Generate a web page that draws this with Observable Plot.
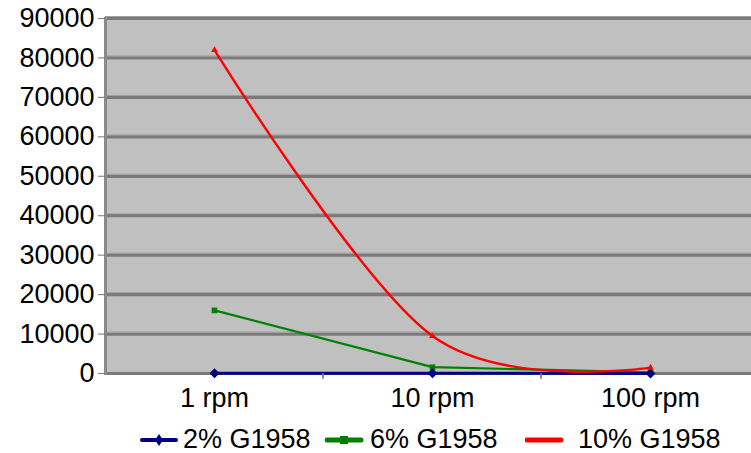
<!DOCTYPE html>
<html>
<head>
<meta charset="utf-8">
<script src="https://cdn.jsdelivr.net/npm/d3@7"></script>
<script src="https://cdn.jsdelivr.net/npm/@observablehq/plot@0.6"></script>
<style>
  html, body { margin: 0; padding: 0; background: #fff; overflow: hidden; }
  body { width: 751px; height: 453px; font-family: "Liberation Sans", Arial, sans-serif; }
  #legend { position: relative; height: 38px; font-size: 27px; color: #000; }
  .item { position: absolute; }
</style>
</head>
<body>
<div id="chart"></div>
<div id="legend"></div>
<script>
const categories = ["1 rpm", "10 rpm", "100 rpm"];
const seriesNames = ["2% G1958", "6% G1958", "10% G1958"];
const values2 = [50, 40, 30];
const values6 = [16000, 1600, 300];
const values10 = [82000, 9500, 1500];
const yTicks = [0, 10000, 20000, 30000, 40000, 50000, 60000, 70000, 80000, 90000];
const colors = ["#000080", "#008000", "#ff0000"];

const rows = [];
[values2, values6, values10].forEach((vals, s) => {
  vals.forEach((v, i) => rows.push({series: seriesNames[s], cat: categories[i], value: v}));
});
const bySeries = name => rows.filter(d => d.series === name);

const W = 751, H = 415;
const left = 105, bandW = 218;

const chart = Plot.plot({
  width: W,
  height: H,
  marginLeft: left,
  marginRight: 0,
  marginTop: 18,
  marginBottom: 42,
  style: {fontFamily: "Liberation Sans, Arial, sans-serif", fontSize: "27px", color: "#000"},
  x: {type: "point", domain: categories, padding: 0, range: [left + bandW / 2, left + bandW * 2.5]},
  y: {domain: [0, 90000], range: [373, 18]},
  marks: [
    Plot.frame({fill: "#c0c0c0", stroke: null}),
    Plot.ruleY(yTicks, {stroke: "#7a7a7a", strokeWidth: 3.2}),
    Plot.ruleY(yTicks.slice(1), {stroke: "#a0a0a0", strokeWidth: 1, dy: -2}),
    Plot.frame({anchor: "left", stroke: "#8a8a8a", strokeWidth: 3}),
    Plot.axisY({ticks: yTicks, tickSize: 7, tickPadding: 4, tickFormat: d => String(d), label: null, stroke: "#777", fontSize: 27}),
    Plot.axisX({tickSize: 0, tickPadding: 14, label: null, fontSize: 27}),
    Plot.line(bySeries(seriesNames[1]), {x: "cat", y: "value", stroke: colors[1], strokeWidth: 2.2}),
    Plot.dot(bySeries(seriesNames[1]), {x: "cat", y: "value", fill: colors[1], symbol: "square", r: 3.2}),
    Plot.line(bySeries(seriesNames[0]), {x: "cat", y: "value", stroke: colors[0], strokeWidth: 3}),
    Plot.dot(bySeries(seriesNames[0]), {x: "cat", y: "value", fill: colors[0], symbol: "diamond2", r: 4.5}),
    Plot.line(bySeries(seriesNames[2]), {x: "cat", y: "value", stroke: colors[2], strokeWidth: 2.4, curve: "cardinal", tension: 0}),
    Plot.dot(bySeries(seriesNames[2]), {x: "cat", y: "value", fill: colors[2], symbol: "triangle", r: 2.5})
  ]
});
document.getElementById("chart").appendChild(chart);

// category separator ticks on bottom axis
const svg = d3.select(chart);
[1, 2].forEach(k => {
  svg.append("line").attr("x1", left + bandW * k).attr("x2", left + bandW * k)
    .attr("y1", 373).attr("y2", 379).attr("stroke", "#777").attr("stroke-width", 1.5);
});

// legend
const legend = document.getElementById("legend");
const pos = [[140, 183], [325, 370], [525, 578]];
seriesNames.forEach((name, i) => {
  const item = document.createElement("div");
  item.className = "item";
  item.style.left = pos[i][0] + "px";
  item.style.top = "9px";
  const sw = d3.create("svg").attr("width", 40).attr("height", 30);
  sw.append("line").attr("x1", 2).attr("x2", 36).attr("y1", 16).attr("y2", 16)
    .attr("stroke", colors[i]).attr("stroke-width", i === 0 ? 4 : 5).attr("stroke-linecap", "round");
  if (i === 0) sw.append("path").attr("d", "M19,10L23,16L19,22L15,16Z").attr("fill", colors[i]);
  if (i === 1) sw.append("rect").attr("x", 15).attr("y", 12).attr("width", 8).attr("height", 8).attr("fill", colors[i]);
  item.appendChild(sw.node());
  const t = document.createElement("span");
  t.textContent = name;
  t.style.position = "absolute";
  t.style.left = (pos[i][1] - pos[i][0]) + "px";
  t.style.whiteSpace = "nowrap";
  t.style.lineHeight = "30px";
  t.style.top = "0px";
  item.appendChild(t);
  legend.appendChild(item);
});
</script>
</body>
</html>
